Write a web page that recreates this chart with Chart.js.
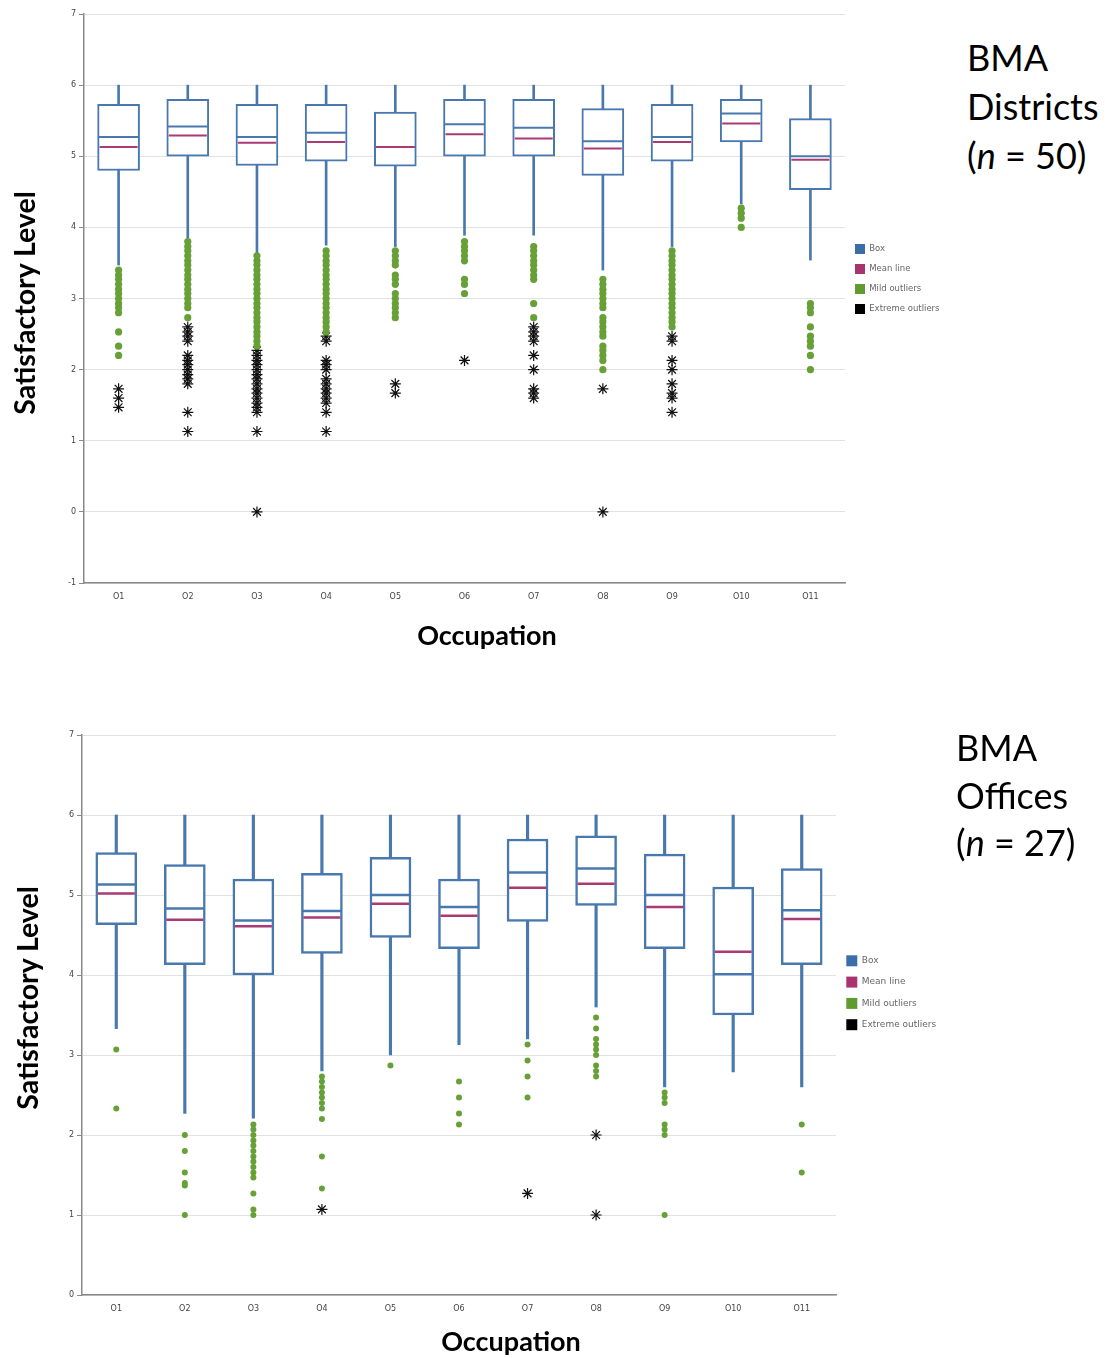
<!DOCTYPE html>
<html>
<head>
<meta charset="utf-8">
<script src="https://cdn.jsdelivr.net/npm/chart.js@4.4.1/dist/chart.umd.min.js"></script>
<style>
html,body{margin:0;padding:0;background:#fff;}
body{width:1105px;height:1358px;position:relative;overflow:hidden;font-family:Lato,"Open Sans",sans-serif;}
canvas{position:absolute;}
.axt{position:absolute;font-family:Lato,sans-serif;font-weight:bold;line-height:30px;height:30px;text-align:center;color:#000;white-space:nowrap;}
.big{position:absolute;font-family:Lato,sans-serif;font-size:36px;color:#000;white-space:nowrap;}
</style>
</head>
<body>
<canvas id="c1" width="960" height="620" style="left:0;top:0"></canvas>
<canvas id="c2" width="960" height="640" style="left:0;top:690px"></canvas>
<div class="axt" style="left:337px;top:620px;width:300px;font-size:27px">Occupation</div>
<div class="axt" style="left:361px;top:1326px;width:300px;font-size:27px">Occupation</div>
<div class="axt" style="left:-126px;top:288px;width:300px;font-size:28.5px;transform:rotate(-90deg)">Satisfactory Level</div>
<div class="axt" style="left:-123px;top:983px;width:300px;font-size:28.5px;transform:rotate(-90deg)">Satisfactory Level</div>
<div class="big" style="left:967px;top:33px;line-height:49px">BMA<br>Districts<br>(<i>n</i> = 50)</div>
<div class="big" style="left:956px;top:724px;line-height:47.5px">BMA<br>Offices<br>(<i>n</i> = 27)</div>
<script>
const occupations = ['O1','O2','O3','O4','O5','O6','O7','O8','O9','O10','O11'];
const yTicksDistricts = [-1, 0, 1, 2, 3, 4, 5, 6, 7];
const yTicksOffices = [0, 1, 2, 3, 4, 5, 6, 7];
const legendLabels = ['Box', 'Mean line', 'Mild outliers', 'Extreme outliers'];

// ---- BMA Districts (n = 50) ----
const districtsQ1 = [4.80, 5.00, 4.87, 4.93, 4.86, 5.00, 5.00, 4.73, 4.93, 5.20, 4.53];
const districtsMedian = [5.27, 5.42, 5.27, 5.33, 5.13, 5.45, 5.40, 5.21, 5.27, 5.60, 5.00];
const districtsQ3 = [5.73, 5.80, 5.73, 5.73, 5.62, 5.80, 5.80, 5.67, 5.73, 5.80, 5.53];
const districtsMean = [5.13, 5.29, 5.19, 5.20, 5.13, 5.31, 5.25, 5.11, 5.20, 5.46, 4.95];
const districtsWhiskerLow = [3.47, 3.85, 3.61, 3.75, 3.73, 3.89, 3.89, 3.40, 3.73, 4.33, 3.54];
const districtsWhiskerHigh = [6, 6, 6, 6, 6, 6, 6, 6, 6, 6, 6];
const districtsMild = [
  [3.40,3.33,3.27,3.20,3.13,3.07,3.00,2.93,2.87,2.80,2.53,2.33,2.20],
  [3.80,3.73,3.67,3.60,3.53,3.47,3.40,3.33,3.27,3.20,3.13,3.07,3.00,2.93,2.87,2.73],
  [3.60,3.53,3.47,3.40,3.33,3.27,3.20,3.13,3.07,3.00,2.93,2.87,2.80,2.73,2.67,2.60,2.53,2.47,2.40,2.33],
  [3.67,3.60,3.53,3.47,3.40,3.33,3.27,3.20,3.13,3.07,3.00,2.93,2.87,2.80,2.73,2.67,2.60,2.53],
  [3.67,3.60,3.53,3.47,3.33,3.27,3.20,3.07,3.00,2.93,2.87,2.80,2.73],
  [3.80,3.73,3.67,3.60,3.53,3.27,3.20,3.07],
  [3.73,3.67,3.60,3.53,3.47,3.40,3.33,3.27,2.93,2.73],
  [3.27,3.20,3.13,3.07,3.00,2.93,2.87,2.73,2.67,2.60,2.53,2.47,2.33,2.27,2.20,2.13,2.00],
  [3.67,3.60,3.53,3.47,3.40,3.33,3.27,3.20,3.13,3.07,3.00,2.93,2.87,2.80,2.73,2.67,2.60],
  [4.27,4.20,4.13,4.00],
  [2.93,2.87,2.80,2.60,2.47,2.40,2.33,2.20,2.00]
];
const districtsExtreme = [
  [1.73,1.60,1.47],
  [2.60,2.53,2.47,2.40,2.20,2.13,2.07,2.00,1.93,1.87,1.80,1.40,1.13],
  [2.27,2.20,2.13,2.07,2.00,1.93,1.87,1.80,1.73,1.67,1.60,1.53,1.47,1.40,1.13,0],
  [2.47,2.40,2.13,2.07,2.00,1.87,1.80,1.73,1.67,1.60,1.53,1.40,1.13],
  [1.80,1.67],
  [2.13],
  [2.60,2.53,2.47,2.40,2.20,2.00,1.73,1.67,1.60],
  [1.73,0],
  [2.47,2.40,2.13,2.00,1.80,1.67,1.60,1.40],
  [],
  []
];

// ---- BMA Offices (n = 27) ----
const officesQ1 = [4.63, 4.13, 4.00, 4.27, 4.47, 4.33, 4.67, 4.87, 4.33, 3.50, 4.13];
const officesMedian = [5.13, 4.83, 4.68, 4.80, 5.00, 4.85, 5.28, 5.33, 5.00, 4.01, 4.81];
const officesQ3 = [5.53, 5.38, 5.20, 5.27, 5.47, 5.20, 5.70, 5.74, 5.51, 5.10, 5.33];
const officesMean = [5.02, 4.69, 4.61, 4.72, 4.89, 4.74, 5.09, 5.14, 4.85, 4.29, 4.70];
const officesWhiskerLow = [3.33, 2.27, 2.21, 2.80, 3.00, 3.13, 3.20, 3.60, 2.60, 2.79, 2.60];
const officesWhiskerHigh = [6, 6, 6, 6, 6, 6, 6, 6, 6, 6, 6];
const officesMild = [
  [3.07,2.33],
  [2.00,1.80,1.53,1.40,1.37,1.00],
  [2.13,2.07,2.00,1.93,1.87,1.80,1.73,1.67,1.60,1.53,1.47,1.27,1.07,1.00],
  [2.73,2.67,2.60,2.53,2.47,2.40,2.33,2.20,1.73,1.33],
  [2.87],
  [2.67,2.47,2.27,2.13],
  [3.13,2.93,2.73,2.47],
  [3.47,3.33,3.20,3.13,3.07,3.00,2.87,2.80,2.73],
  [2.53,2.47,2.40,2.13,2.07,2.00,1.00],
  [],
  [2.13,1.53]
];
const officesExtreme = [
  [], [], [], [1.07], [], [], [1.27], [2.00,1.00], [], [], []
];

const BLUE = '#4878ae';
const MAGENTA = '#a93a73';
const GREEN = '#67a036';
const legendColors = ['#3b6ea8', '#a8336e', '#5f9b2f', '#000000'];

function toPoints(groups) {
  const pts = [];
  groups.forEach((vals, i) => vals.forEach(v => pts.push({x: occupations[i], y: v})));
  return pts;
}

function makeChart(id, d, s) {
  return new Chart(document.getElementById(id), {
    type: 'bar',
    data: {
      labels: occupations,
      datasets: [
        {type: 'line', label: 'Mild outliers', data: toPoints(d.mild), showLine: false,
          pointStyle: 'circle', pointRadius: s.dot, pointBackgroundColor: GREEN, pointBorderWidth: 0, order: 0},
        {type: 'line', label: 'Extreme outliers', data: toPoints(d.extreme), showLine: false,
          pointStyle: 'star', pointRadius: 5.5, pointBorderColor: '#111', pointBackgroundColor: '#111', pointBorderWidth: 1.2, order: 0},
        {type: 'line', label: 'Mean line', data: d.mean, showLine: false,
          pointStyle: 'line', pointRadius: s.box / 2 - 2, pointBorderColor: MAGENTA, pointBorderWidth: s.lw, order: 1},
        {type: 'line', label: 'Median', data: d.median, showLine: false,
          pointStyle: 'line', pointRadius: s.box / 2 - 1, pointBorderColor: BLUE, pointBorderWidth: s.lw, order: 2},
        {type: 'bar', label: 'Box', data: d.q1.map((v, i) => [v, d.q3[i]]), grouped: false,
          barThickness: s.box, backgroundColor: '#ffffff', borderColor: BLUE, borderWidth: s.lw, borderSkipped: false, order: 3},
        {type: 'bar', label: 'Whisker', data: d.low.map((v, i) => [v, d.high[i]]), grouped: false,
          barThickness: s.lw, backgroundColor: BLUE, borderWidth: 0, order: 4}
      ]
    },
    options: {
      responsive: false,
      animation: false,
      events: [],
      layout: {autoPadding: false, padding: {left: 0, top: s.padTop, right: s.padRight, bottom: s.padBottom}},
      scales: {
        x: {
          type: 'category', offset: true,
          grid: {display: false, drawTicks: false},
          border: {display: true, color: '#8a8a8a', width: 1.5},
          ticks: {font: {family: 'DejaVu Sans', size: 8}, color: '#444', padding: 9},
          afterFit: sc => { sc.height = 20; }
        },
        y: {
          min: s.ticks[0], max: s.ticks[s.ticks.length - 1],
          afterBuildTicks: sc => { sc.ticks = s.ticks.map(v => ({value: v})); },
          grid: {color: '#e2e2e2', tickColor: '#8a8a8a', tickLength: 5, drawTicks: true},
          border: {display: true, color: '#8a8a8a', width: 1.5},
          ticks: {font: {family: 'DejaVu Sans', size: 8}, color: '#444', padding: 3},
          afterFit: sc => { sc.width = s.yWidth; }
        }
      },
      plugins: {
        tooltip: {enabled: false},
        title: {display: false},
        legend: {
          position: 'right', align: 'start', maxWidth: s.lmax,
          title: {display: true, text: ' ', font: {size: 10}, padding: {top: 0, bottom: s.legendGap}},
          labels: {
            boxWidth: s.lbox, boxHeight: s.lbox, padding: s.lpad,
            font: {family: 'DejaVu Sans', size: s.lfont}, color: '#333',
            generateLabels: () => legendLabels.map((t, i) => ({
              text: t, fillStyle: legendColors[i], strokeStyle: legendColors[i],
              lineWidth: 0, hidden: false, datasetIndex: i
            }))
          }
        }
      }
    }
  });
}

makeChart('c1', {
  q1: districtsQ1, median: districtsMedian, q3: districtsQ3, mean: districtsMean,
  low: districtsWhiskerLow, high: districtsWhiskerHigh, mild: districtsMild, extreme: districtsExtreme
}, {box: 42, lw: 2, dot: 3.6, padTop: 14, padRight: 19, padBottom: 17, yWidth: 84,
    ticks: yTicksDistricts, legendGap: 208, lbox: 10, lpad: 10, lfont: 8.5, lmax: 96});

makeChart('c2', {
  q1: officesQ1, median: officesMedian, q3: officesQ3, mean: officesMean,
  low: officesWhiskerLow, high: officesWhiskerHigh, mild: officesMild, extreme: officesExtreme
}, {box: 41, lw: 2.5, dot: 3, padTop: 45, padRight: 23, padBottom: 15, yWidth: 82,
    ticks: yTicksOffices, legendGap: 198, lbox: 11, lpad: 10.3, lfont: 9, lmax: 101});
</script>
</body>
</html>
